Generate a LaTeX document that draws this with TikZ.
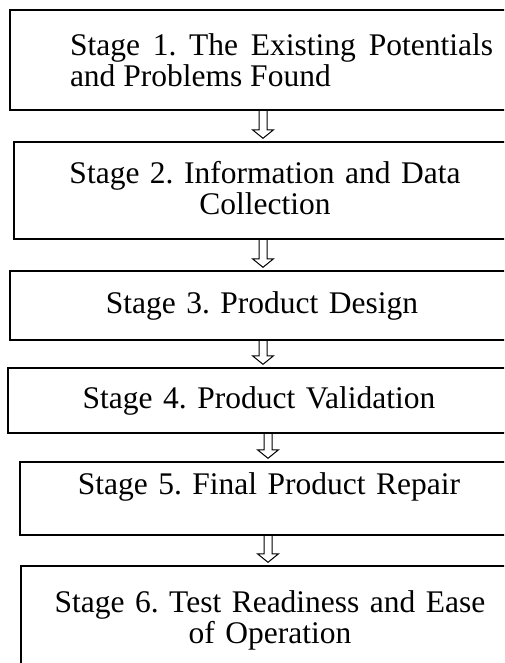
\documentclass[tikz,border=0pt]{standalone}
\usepackage{fontspec}
\setmainfont{Liberation Serif}
\usetikzlibrary{calc}
\tolerance=9999
\frenchspacing

\tikzset{
  stagebox/.style={draw, rectangle, line width=1.4pt, inner sep=0pt, align=center, text width=470pt, font=\fontsize{31.5}{31}\selectfont},
  flow/.style={line width=1pt, to path={let \p1=(\tikztostart), \p2=(\tikztotarget) in
    (\x1-4pt,\y1) -- (\x1-4pt,\y2+11.5pt) -- (\x1-10.5pt,\y2+11.5pt) -- (\x1,\y2+3pt)
    -- (\x1+10.5pt,\y2+11.5pt) -- (\x1+4pt,\y2+11.5pt) -- (\x1+4pt,\y1)}}
}

\begin{document}
\begin{tikzpicture}[x=1pt,y=-1pt]
            \useasboundingbox (0,0) rectangle (504,663);
            \clip (0,0) rectangle (504,663);
            \node[stagebox, minimum width=543pt, minimum height=100pt, text width=423pt, align=justify] (b1) at (281.5,60) {Stage 1. The Existing Potentials and Problems Found};
            \node[stagebox, minimum width=502pt, minimum height=97pt, text depth=37pt] (b2) at (265,190.5) {Stage 2. Information and Data\\ Collection};
            \node[stagebox, minimum width=504pt, minimum height=69pt] (b3) at (262,305.5) {Stage 3. Product Design};
            \node[stagebox, minimum width=502pt, minimum height=65pt] (b4) at (259,400.5) {Stage 4. Product Validation};
            \node[stagebox, minimum width=498pt, minimum height=73pt, text height=21.5pt, text depth=30.5pt] (b5) at (269,498.5) {Stage 5. Final Product Repair};
            \node[stagebox, minimum width=498pt, minimum height=108pt] (b6) at (270,620) {Stage 6. Test Readiness and Ease\\ of Operation};
            \foreach \a/\b/\px in {b1/b2/263, b2/b3/263, b3/b4/263, b4/b5/268, b5/b6/268}
                \draw[flow] (\px,0 |- \a.south) to (\px,0 |- \b.north);
        \end{tikzpicture}
\end{document}
